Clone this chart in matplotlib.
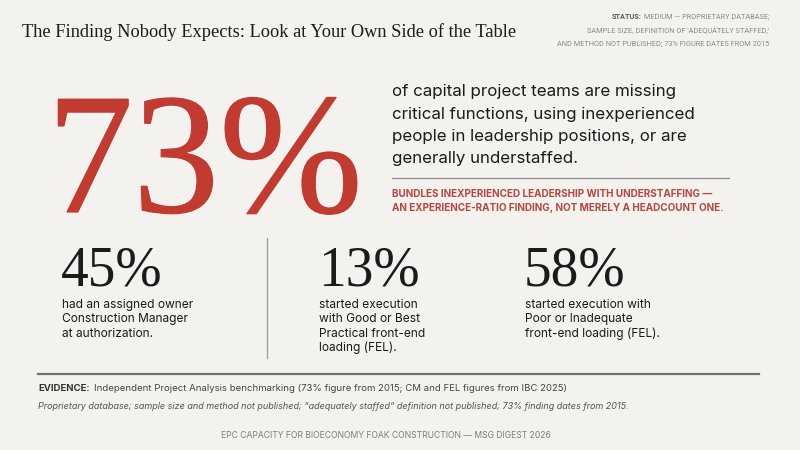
import matplotlib.pyplot as plt
import matplotlib.patheffects as pe
from matplotlib.lines import Line2D

# ---- content ----
title = "The Finding Nobody Expects: Look at Your Own Side of the Table"
status_lines = [
    ("STATUS:", " MEDIUM — PROPRIETARY DATABASE;"),
    ("", "SAMPLE SIZE, DEFINITION OF 'ADEQUATELY STAFFED,'"),
    ("", "AND METHOD NOT PUBLISHED; 73% FIGURE DATES FROM 2015"),
]
headline_value = 73
headline_lines = [
    "of capital project teams are missing",
    "critical functions, using inexperienced",
    "people in leadership positions, or are",
    "generally understaffed.",
]
note_lines = [
    "BUNDLES INEXPERIENCED LEADERSHIP WITH UNDERSTAFFING —",
    "AN EXPERIENCE-RATIO FINDING, NOT MERELY A HEADCOUNT ONE.",
]
stat_values = [45, 13, 58]
stat_labels = [
    ["had an assigned owner", "Construction Manager", "at authorization."],
    ["started execution", "with Good or Best", "Practical front-end", "loading (FEL)."],
    ["started execution with", "Poor or Inadequate", "front-end loading (FEL)."],
]
evidence_head = "EVIDENCE:"
evidence_text = ("Independent Project Analysis benchmarking (73% figure from 2015; "
                 "CM and FEL figures from IBC 2025)")
caveat_text = ("Proprietary database; sample size and method not published; "
               "\u201cadequately staffed\u201d definition not published; "
               "73% finding dates from 2015.")
footer = "EPC CAPACITY FOR BIOECONOMY FOAK CONSTRUCTION — MSG DIGEST 2026"

# ---- style ----
W, H = 800, 450
bg = "#f4f2ee"
red = "#c13b31"
red_soft = "#b5473f"
ink = "#1b1b1b"
grey = "#7d7d7d"
serif = ["Liberation Serif", "DejaVu Serif"]
sans = ["Inter", "DejaVu Sans"]
cond = ["Roboto", "DejaVu Sans"]


def fx(x):
    return x / W


def fy(y):
    return 1 - y / H


fig = plt.figure(figsize=(8, 4.5), dpi=100, facecolor=bg)
renderer = fig.canvas.get_renderer()


def put(x, y, s, **kw):
    kw.setdefault("va", "baseline")
    return fig.text(fx(x), fy(y), s, **kw)


def hline(x0, x1, y, color, lw):
    fig.add_artist(Line2D([fx(x0), fx(x1)], [fy(y), fy(y)], color=color, lw=lw,
                          transform=fig.transFigure))


# title
put(22, 37, title, family=serif, fontsize=13.2, color=ink)

# status block (right aligned, bold label)
for (lab, rest), y in zip(status_lines, [19, 32, 46]):
    t = put(769, y, rest, family=cond, fontsize=5.3, color="#8a8a8a", ha="right")
    if lab:
        bb = t.get_window_extent(renderer)
        put(bb.x0, y, lab, family=cond, fontsize=5.3, color="#5a5a5a",
            ha="right", weight="bold")

# headline figure (light stroke for a slightly heavier display weight)
put(47, 212, f"{headline_value}%", family=serif, fontsize=124, color=red,
    path_effects=[pe.withStroke(linewidth=0.9, foreground=red)])

for s, y in zip(headline_lines, [96, 118.5, 141, 163.5]):
    put(392, y, s, family=sans, fontsize=12.2, color=ink)

hline(392, 729, 178, "#8c8c8c", 0.9)

for s, y in zip(note_lines, [197, 211]):
    put(392, y, s, family=sans, fontsize=7.15, color=red_soft, weight="bold")

# three stats
stat_x = [62, 319, 525]
for x, v, lines in zip(stat_x, stat_values, stat_labels):
    put(x - 1, 286, f"{v}%", family=serif, fontsize=40, color=ink)
    for i, s in enumerate(lines):
        put(x, 308 + i * 14.3, s, family=sans, fontsize=8.6, color=ink)

fig.add_artist(Line2D([fx(267), fx(267)], [fy(238), fy(358)], color="#9a9a9a",
                      lw=0.9, transform=fig.transFigure))

# evidence
hline(38, 759, 374, "#6f6f6f", 1.6)
t = put(38, 391, evidence_head, family=sans, fontsize=6.9, color="#333333",
        weight="bold")
bb = t.get_window_extent(renderer)
put(bb.x1 + 4, 391, evidence_text, family=sans, fontsize=6.9, color="#444444")
put(38, 409, caveat_text, family=sans, fontsize=6.5, color="#555555",
    style="italic")

put(386, 438, footer, family=sans, fontsize=6.2, color=grey, ha="center")

fig.savefig("out.png", dpi=100, facecolor=bg)
